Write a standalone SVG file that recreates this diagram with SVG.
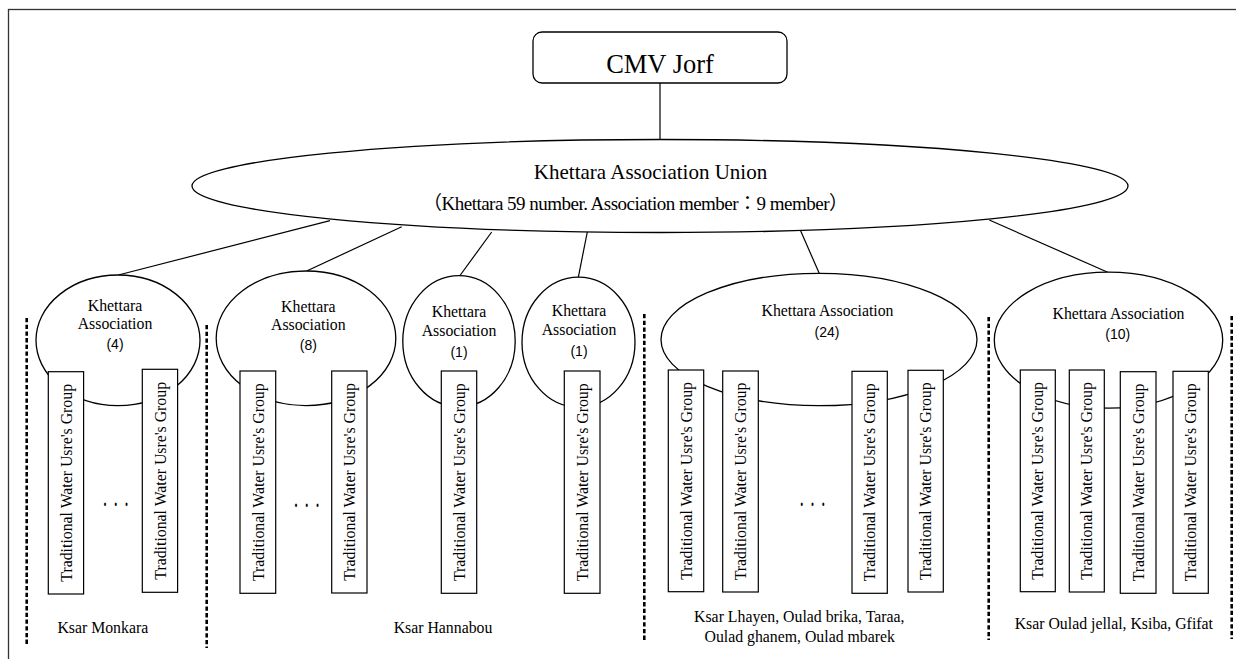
<svg xmlns="http://www.w3.org/2000/svg" width="1236" height="659" viewBox="0 0 1236 659">
<style>
.frame{fill:none;stroke:#333;stroke-width:1.3}
.box{fill:#fff;stroke:#000;stroke-width:1.3}
.ell{fill:#fff;stroke:#000;stroke-width:1.3}
.grp{fill:#fff;stroke:#000;stroke-width:1.2}
.conn{stroke:#000;stroke-width:1.2;fill:none}
.div{stroke:#000;stroke-width:2.6;stroke-dasharray:4.3 2.4;fill:none}
.serif{font-family:"Liberation Serif","Times New Roman",serif;fill:#000}
.sans{font-family:"Liberation Sans",Arial,sans-serif;fill:#000}
.t16{font-size:15.8px}
.num{font-size:14px}
.mid{text-anchor:middle}
.dots{font-family:"Liberation Serif",serif;font-size:16px;letter-spacing:6.7px;fill:#000}
</style>
<rect class="frame" x="8.5" y="9.5" width="1240" height="660"/>

<g id="connectors">
<line class="conn" x1="660" y1="83" x2="660" y2="140"/>
<line class="conn" x1="330" y1="220.7" x2="118.3" y2="275"/>
<line class="conn" x1="401.7" y1="226.7" x2="306.7" y2="271"/>
<line class="conn" x1="491.7" y1="232" x2="460" y2="275.5"/>
<line class="conn" x1="587.3" y1="232" x2="578.3" y2="277.3"/>
<line class="conn" x1="796.7" y1="221.7" x2="819.3" y2="273.5"/>
<line class="conn" x1="989.3" y1="220" x2="1107.7" y2="272.3"/>
</g>

<g id="dividers">
<line class="div" x1="26.7" y1="318" x2="26.7" y2="645"/>
<line class="div" x1="206.7" y1="325" x2="206.7" y2="648"/>
<line class="div" x1="644.3" y1="314" x2="644.3" y2="642"/>
<line class="div" x1="988.7" y1="317" x2="988.7" y2="640"/>
<line class="div" x1="1231.7" y1="316" x2="1231.7" y2="639"/>
</g>

<g id="cmv">
<rect class="box" x="533" y="32" width="254" height="51" rx="9"/>
<text class="serif mid" x="660" y="72.5" font-size="26.5">CMV Jorf</text>
</g>

<g id="union">
<ellipse class="ell" cx="660" cy="186" rx="468" ry="46.5"/>
<text class="serif mid" x="650.5" y="178.5" font-size="21">Khettara Association Union</text>
<text x="423" y="209.5" font-size="19" textLength="425" lengthAdjust="spacing" style="font-family:'Liberation Serif','Noto Sans CJK JP',serif;fill:#000">（Khettara 59 number. Association member：9 member）</text>
</g>

<g id="assoc1">
<ellipse class="ell" cx="118" cy="340.3" rx="82" ry="65.3"/>
<text class="serif t16 mid" x="115" y="311">Khettara</text>
<text class="serif t16 mid" x="115" y="329.3">Association</text>
<text class="sans num mid" x="115" y="349.3">(4)</text>
<g id="assoc1-groups">
<rect class="grp" x="48.3" y="371.7" width="35.3" height="222.3"/>
<text class="serif t16 mid" transform="translate(71.5,482.8) rotate(-90)">Traditional Water Usre's Group</text>
<rect class="grp" x="142.3" y="369.3" width="35.3" height="223"/>
<text class="serif t16 mid" transform="translate(165.5,480.8) rotate(-90)">Traditional Water Usre's Group</text>
<text class="dots" transform="translate(103,506) scale(1,1.8)">...</text>
</g>
</g>

<g id="assoc8">
<ellipse class="ell" cx="306" cy="338.3" rx="89.8" ry="67.3"/>
<text class="serif t16 mid" x="308.3" y="311.7">Khettara</text>
<text class="serif t16 mid" x="308.3" y="330">Association</text>
<text class="sans num mid" x="308.3" y="350">(8)</text>
<rect class="grp" x="240" y="371" width="35.7" height="222.3"/>
<text class="serif t16 mid" transform="translate(263.5,482.2) rotate(-90)">Traditional Water Usre's Group</text>
<rect class="grp" x="331.7" y="371" width="35.3" height="222"/>
<text class="serif t16 mid" transform="translate(354.8,482) rotate(-90)">Traditional Water Usre's Group</text>
<text class="dots" transform="translate(294,506.5) scale(1,1.8)">...</text>
</g>

<g id="assoc1a">
<ellipse class="ell" cx="459" cy="341.2" rx="56.2" ry="65.5"/>
<text class="serif t16 mid" x="459" y="316.7">Khettara</text>
<text class="serif t16 mid" x="459" y="335.7">Association</text>
<text class="sans num mid" x="459" y="356.7">(1)</text>
<rect class="grp" x="441.3" y="371" width="35.4" height="222.3"/>
<text class="serif t16 mid" transform="translate(464.5,482.2) rotate(-90)">Traditional Water Usre's Group</text>
</g>

<g id="assoc1b">
<ellipse class="ell" cx="578.5" cy="342.2" rx="56.5" ry="65"/>
<text class="serif t16 mid" x="579" y="316">Khettara</text>
<text class="serif t16 mid" x="579" y="335">Association</text>
<text class="sans num mid" x="579" y="355.7">(1)</text>
<rect class="grp" x="564.3" y="371" width="35.7" height="222.3"/>
<text class="serif t16 mid" transform="translate(587.7,482.2) rotate(-90)">Traditional Water Usre's Group</text>
</g>

<g id="assoc24">
<ellipse class="ell" cx="819" cy="339.5" rx="158" ry="66.2"/>
<text class="serif t16 mid" x="827.5" y="316">Khettara Association</text>
<text class="sans num mid" x="827" y="336.7">(24)</text>
<rect class="grp" x="668.3" y="370" width="35.4" height="221.7"/>
<text class="serif t16 mid" transform="translate(691.5,480.9) rotate(-90)">Traditional Water Usre's Group</text>
<rect class="grp" x="722.7" y="371" width="35.6" height="221"/>
<text class="serif t16 mid" transform="translate(746,481.5) rotate(-90)">Traditional Water Usre's Group</text>
<rect class="grp" x="852" y="371.3" width="35.3" height="222"/>
<text class="serif t16 mid" transform="translate(875.2,482.3) rotate(-90)">Traditional Water Usre's Group</text>
<rect class="grp" x="908" y="370.3" width="35.3" height="221.7"/>
<text class="serif t16 mid" transform="translate(931.2,481.2) rotate(-90)">Traditional Water Usre's Group</text>
<text class="dots" transform="translate(799.8,506) scale(1,1.8)">...</text>
</g>

<g id="assoc10">
<ellipse class="ell" cx="1108.5" cy="340.2" rx="114.2" ry="68"/>
<text class="serif t16 mid" x="1118.5" y="319.3">Khettara Association</text>
<text class="sans num mid" x="1117.7" y="339.3">(10)</text>
<rect class="grp" x="1020.3" y="370" width="35" height="221.7"/>
<text class="serif t16 mid" transform="translate(1043.3,480.9) rotate(-90)">Traditional Water Usre's Group</text>
<rect class="grp" x="1069.3" y="370" width="35" height="222"/>
<text class="serif t16 mid" transform="translate(1092.3,481) rotate(-90)">Traditional Water Usre's Group</text>
<rect class="grp" x="1120.3" y="371.7" width="35.7" height="221.6"/>
<text class="serif t16 mid" transform="translate(1143.7,482.5) rotate(-90)">Traditional Water Usre's Group</text>
<rect class="grp" x="1173" y="371.3" width="35.3" height="222"/>
<text class="serif t16 mid" transform="translate(1196.2,482.3) rotate(-90)">Traditional Water Usre's Group</text>
</g>

<g id="labels">
<text class="serif t16 mid" x="102.8" y="633.3">Ksar Monkara</text>
<text class="serif t16 mid" x="443" y="633.3">Ksar Hannabou</text>
<text class="serif t16 mid" x="799.3" y="621.7">Ksar Lhayen, Oulad brika, Taraa,</text>
<text class="serif t16 mid" x="799.7" y="641.7">Oulad ghanem, Oulad mbarek</text>
<text class="serif t16 mid" x="1113.8" y="629.3">Ksar Oulad jellal, Ksiba, Gfifat</text>
</g>
</svg>
